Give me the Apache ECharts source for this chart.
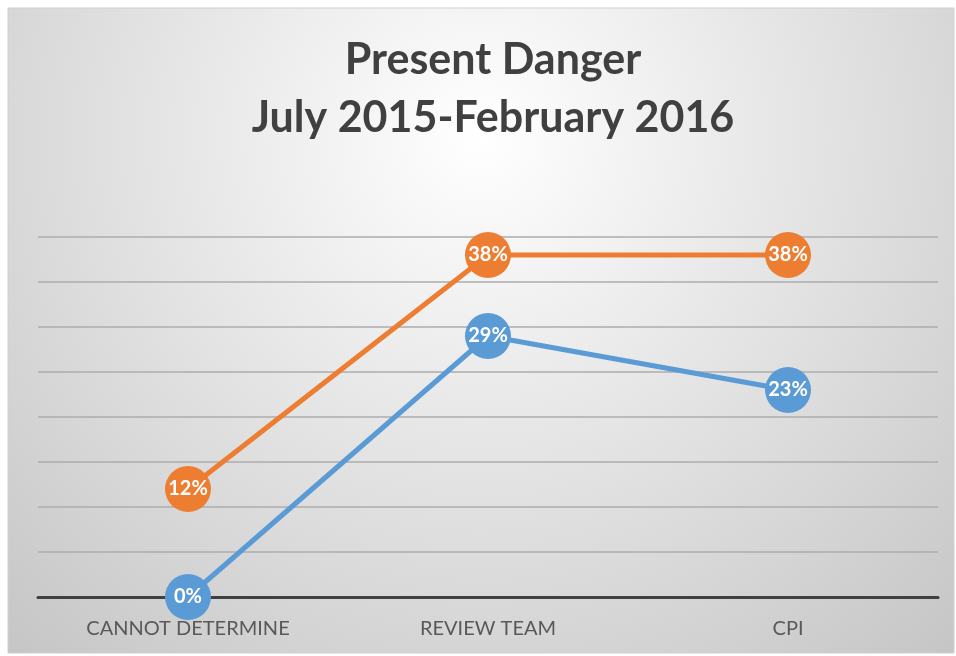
<!DOCTYPE html>
<html><head><meta charset="utf-8">
<script src="https://cdn.jsdelivr.net/npm/echarts@6/dist/echarts.min.js"></script>
<style>html,body{margin:0;padding:0;background:#fff}#c{width:956px;height:656px}</style>
</head><body><div id="c"></div>
<script>
const categories = ['CANNOT DETERMINE', 'REVIEW TEAM', 'CPI'];
const seriesOrange = [12, 38, 38];
const seriesBlue = [0, 29, 23];
const titleLines = ['Present Danger', 'July 2015-February 2016'];

const chart = echarts.init(document.getElementById('c'));
const FONT = 'Lato';
const labelStyle = {show: true, position: 'inside', formatter: p => p.value + '%', color: '#fff', fontFamily: FONT, fontWeight: 'bold', fontSize: 20};
chart.setOption({
  animation: false,
  graphic: [{
    type: 'rect', z: -10, silent: true,
    shape: {x: 8, y: 8, width: 946, height: 645},
    style: {
      fill: {type: 'radial', x: 0.5, y: 0.2, r: 1.15, colorStops: [{offset: 0, color: '#ffffff'}, {offset: 1, color: '#c2c2c2'}]},
      stroke: '#d0d0d0', lineWidth: 1
    }
  }],
  title: {
    text: titleLines.join('\n'), left: 488, top: 26, textAlign: 'center',
    textStyle: {fontFamily: FONT, fontWeight: 'bold', fontSize: 43, color: '#404040', lineHeight: 58}
  },
  grid: {left: 38, right: 18, top: 237, bottom: 59},
  xAxis: {
    type: 'category', data: categories, boundaryGap: true,
    axisLine: {lineStyle: {color: '#404040', width: 3}},
    axisTick: {show: false},
    axisLabel: {fontFamily: FONT, fontSize: 20, color: '#595959', margin: 22}
  },
  yAxis: {
    type: 'value', min: 0, max: 40, interval: 5,
    axisLabel: {show: false}, axisLine: {show: false}, axisTick: {show: false},
    splitLine: {lineStyle: {color: '#adadad', width: 1.5}}
  },
  series: [
    {type: 'line', data: seriesOrange, symbol: 'circle', symbolSize: 46, z: 3,
     lineStyle: {color: '#ED7D31', width: 5}, itemStyle: {color: '#ED7D31'}, label: labelStyle},
    {type: 'line', data: seriesBlue, symbol: 'circle', symbolSize: 46, z: 4,
     lineStyle: {color: '#5B9BD5', width: 5}, itemStyle: {color: '#5B9BD5'}, label: labelStyle}
  ]
});
</script></body></html>
